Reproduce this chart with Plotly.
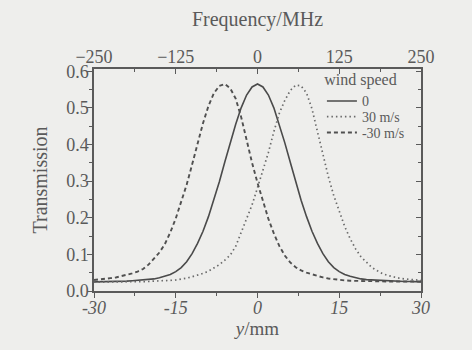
import plotly.graph_objects as go

# ---- data ----
y_mm = list(range(-30, 31))

t_0 = [0.025, 0.025, 0.026, 0.026, 0.026, 0.027, 0.027, 0.028, 0.029, 0.030,
       0.031, 0.033, 0.036, 0.040, 0.045, 0.053, 0.064, 0.080, 0.102, 0.130,
       0.163, 0.203, 0.248, 0.298, 0.352, 0.405, 0.455, 0.500, 0.535, 0.557,
       0.565,
       0.557, 0.535, 0.500, 0.455, 0.405, 0.352, 0.298, 0.248, 0.203, 0.163,
       0.130, 0.102, 0.080, 0.064, 0.053, 0.045, 0.040, 0.036, 0.033, 0.031,
       0.030, 0.029, 0.028, 0.027, 0.027, 0.026, 0.026, 0.026, 0.025, 0.025]

t_p30 = [0.024, 0.024, 0.024, 0.025, 0.025, 0.025, 0.025, 0.025, 0.025, 0.026,
         0.026, 0.027, 0.027, 0.028, 0.029, 0.030, 0.032, 0.035, 0.039, 0.043,
         0.048, 0.054, 0.062, 0.072, 0.084, 0.098, 0.122, 0.160, 0.195, 0.235,
         0.282,
         0.330, 0.378, 0.435, 0.485, 0.520, 0.547, 0.562, 0.560, 0.540, 0.497,
         0.435, 0.370, 0.312, 0.260, 0.215, 0.176, 0.143, 0.115, 0.093, 0.077,
         0.064, 0.055, 0.047, 0.042, 0.038, 0.035, 0.033, 0.031, 0.030, 0.029]

t_m30 = [0.030, 0.031, 0.033, 0.035, 0.037, 0.040, 0.043, 0.048, 0.053, 0.060,
         0.072, 0.088, 0.105, 0.128, 0.160, 0.198, 0.243, 0.290, 0.345, 0.405,
         0.458, 0.505, 0.540, 0.560, 0.565, 0.553, 0.525, 0.475, 0.410, 0.350,
         0.295,
         0.243, 0.197, 0.157, 0.123, 0.097, 0.078, 0.065, 0.056, 0.050, 0.045,
         0.041, 0.037, 0.034, 0.032, 0.030, 0.029, 0.028, 0.027, 0.027, 0.027,
         0.027, 0.026, 0.026, 0.026, 0.026, 0.026, 0.026, 0.026, 0.026, 0.026]

series_names = ["0", "30 m/s", "-30 m/s"]
x_ticks = [-30, -15, 0, 15, 30]
freq_ticks = [-250, -125, 0, 125, 250]
y_ticks = [0.0, 0.1, 0.2, 0.3, 0.4, 0.5, 0.6]

ink = "#5a5a5a"
font = "Liberation Serif, Times New Roman, serif"
bg = "#eeeeec"

fig = go.Figure()
fig.add_trace(go.Scatter(x=y_mm, y=t_0, name=series_names[0], mode="lines", legend="legend",
                         line=dict(color="#4a4a4a", width=1.6, dash="solid")))
fig.add_trace(go.Scatter(x=y_mm, y=t_p30, name=series_names[1], mode="lines", legend="legend2",
                         line=dict(color="#6a6a6a", width=1.7, dash="1.5px,3px")))
fig.add_trace(go.Scatter(x=y_mm, y=t_m30, name=series_names[2], mode="lines", legend="legend3",
                         line=dict(color="#505050", width=1.9, dash="4px,3px")))
# invisible trace to attach the top frequency axis and right axis
fig.add_trace(go.Scatter(x=freq_ticks, y=[None] * len(freq_ticks), xaxis="x2", yaxis="y2",
                         showlegend=False, hoverinfo="skip", mode="lines"))

axis_common = dict(showgrid=False, zeroline=False, automargin=False,
                   showline=True, linecolor=ink, linewidth=1.5,
                   tickcolor=ink, tickwidth=1.2, ticklen=5)

leg_common = dict(x=0.697, xanchor="left", bgcolor="rgba(0,0,0,0)",
                  font=dict(size=14), itemwidth=30)

y_range = [0, 0.606]

fig.update_layout(
    width=472, height=350,
    margin=dict(l=94, r=51, t=69, b=59, autoexpand=False),
    paper_bgcolor=bg, plot_bgcolor=bg,
    font=dict(family=font, color=ink, size=18),
    xaxis=dict(range=[-30, 30], tickvals=x_ticks,
               ticktext=["<i>%d</i>" % v for v in x_ticks],
               ticks="outside", ticklabelstandoff=-5,
               minor=dict(dtick=7.5, ticks="outside", ticklen=3, tickcolor=ink),
               title=dict(text="<i>y</i>/mm", font=dict(size=19), standoff=0),
               **axis_common),
    xaxis2=dict(range=[-250, 250], tickvals=freq_ticks, overlaying="x", side="top",
                anchor="y", ticks="inside", ticklabelstandoff=-3,
                minor=dict(dtick=62.5, ticks="inside", ticklen=3, tickcolor=ink),
                title=dict(text="Frequency/MHz", font=dict(size=20), standoff=15),
                **axis_common),
    yaxis=dict(range=y_range, tickvals=y_ticks, tickformat=".1f",
               ticks="outside", ticklabelstandoff=-5,
               minor=dict(dtick=0.05, ticks="outside", ticklen=3, tickcolor=ink),
               title=dict(text="Transmission", font=dict(size=20), standoff=13),
               **axis_common),
    yaxis2=dict(range=y_range, tickvals=y_ticks, overlaying="y", side="right",
                anchor="x", ticks="inside",
                minor=dict(dtick=0.05, ticks="inside", ticklen=3, tickcolor=ink),
                showticklabels=False, **axis_common),
    legend=dict(y=1.02, yanchor="top",
                title=dict(text="wind speed", side="top center", font=dict(size=16)),
                **leg_common),
    legend2=dict(y=0.784, yanchor="middle", **leg_common),
    legend3=dict(y=0.712, yanchor="middle", **leg_common),
    showlegend=True,
)

fig.write_html("out.html",
               config={"displayModeBar": False},
               post_script="document.body.style.margin='0';"
                           "document.body.style.background='#eeeeec';")
